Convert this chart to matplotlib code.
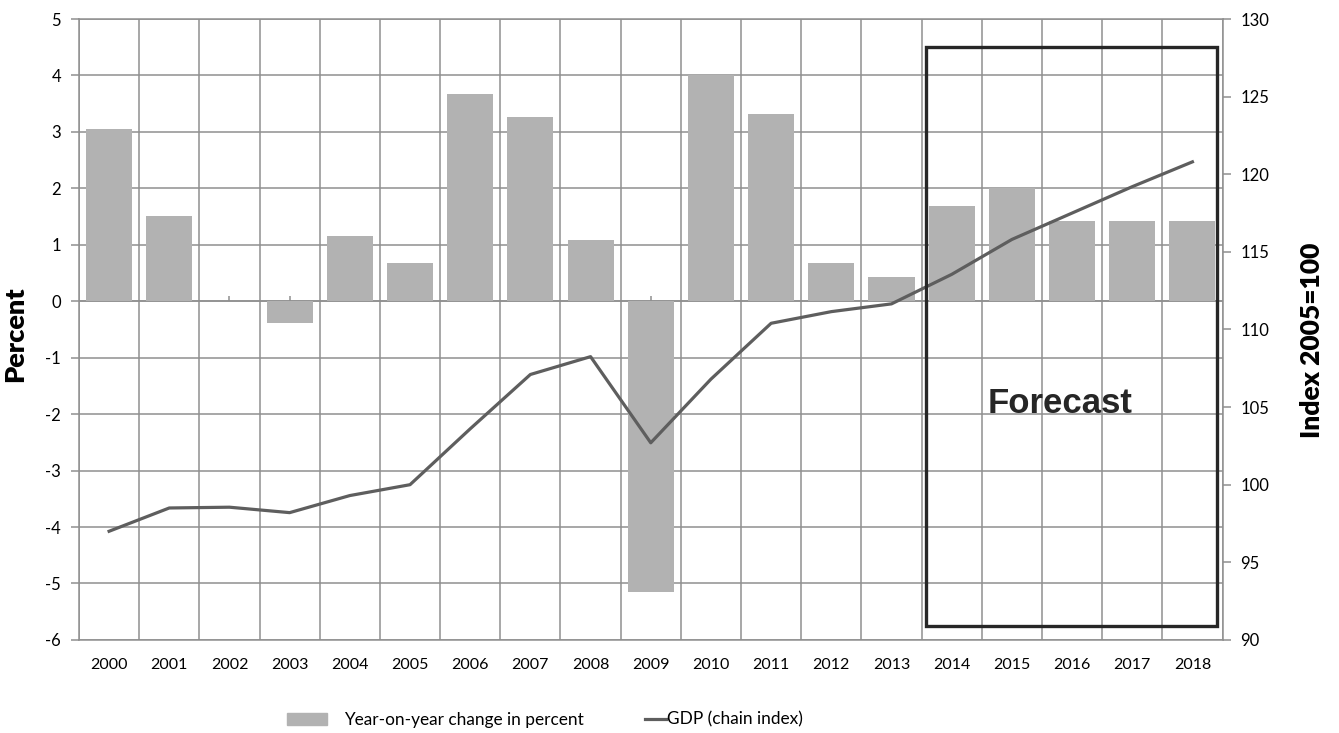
import numpy as np
import matplotlib
matplotlib.use("Agg")
import matplotlib.pyplot as plt
from matplotlib.patches import Patch, Rectangle
from matplotlib.lines import Line2D

plt.rcParams["font.family"] = ["Lato", "DejaVu Sans"]
plt.rcParams["axes.unicode_minus"] = False

years = [2000, 2001, 2002, 2003, 2004, 2005, 2006, 2007, 2008, 2009,
         2010, 2011, 2012, 2013, 2014, 2015, 2016, 2017, 2018]
yoy_change = [3.05, 1.51, 0.0, -0.38, 1.15, 0.67, 3.68, 3.26, 1.08, -5.15,
              4.0, 3.32, 0.68, 0.43, 1.69, 2.0, 1.43, 1.43, 1.43]
gdp_index = [97.0, 98.5, 98.55, 98.2, 99.3, 100.0, 103.6, 107.1, 108.25, 102.7,
             106.8, 110.4, 111.15, 111.65, 113.55, 115.8, 117.5, 119.2, 120.8]

forecast_start = 2014
forecast_label = "Forecast"

BAR_COLOR = "#b2b2b2"
LINE_COLOR = "#5e5e5e"
GRID_COLOR = "#8f8f8f"

fig = plt.figure(figsize=(13.39, 7.33), dpi=100)
ax = fig.add_axes([0.059, 0.127, 0.854, 0.847])
ax2 = ax.twinx()

x = np.arange(len(years))

# bars (percent, left axis)
ax.bar(x, yoy_change, width=0.765, color=BAR_COLOR, zorder=2)

ax.set_xlim(-0.5, len(years) - 0.5)
ax.set_ylim(-6, 5)
ax.set_yticks(range(-6, 6))
ax.set_xticks(x)
ax.set_xticklabels([str(y) for y in years], fontsize=11.5)
ax.set_xticks(np.arange(-0.5, len(years)), minor=True)

# grid: horizontal at every percent, vertical at category borders
ax.grid(axis="y", which="major", color=GRID_COLOR, linewidth=1.1, zorder=0)
ax.grid(axis="x", which="minor", color=GRID_COLOR, linewidth=1.1, zorder=0)
ax.set_axisbelow(True)
ax.tick_params(axis="x", which="both", length=0, pad=13)
ax.tick_params(axis="y", length=6, width=1.1, color=GRID_COLOR, labelsize=12, pad=7)

# zero line with small category ticks
ax.axhline(0, color=GRID_COLOR, linewidth=1.1, zorder=1)
ax.vlines(x, 0, 0.09, color=GRID_COLOR, linewidth=1.1, zorder=1)

for side in ["top", "left", "bottom"]:
    ax.spines[side].set_color(GRID_COLOR)
    ax.spines[side].set_linewidth(1.1)
ax.spines["right"].set_visible(False)

ax.set_ylabel("Percent", fontsize=19.5, fontweight="heavy")
ax.yaxis.set_label_coords(-0.0455, 0.492)

# GDP chain index (right axis)
ax2.plot(x, gdp_index, color=LINE_COLOR, linewidth=2.3, zorder=3)
ax2.set_ylim(90, 130)
ax2.set_yticks(range(90, 131, 5))
ax2.tick_params(axis="y", length=6, width=1.1, color=GRID_COLOR, labelsize=12, pad=7)
for side in ["top", "left", "bottom"]:
    ax2.spines[side].set_visible(False)
ax2.spines["right"].set_color(GRID_COLOR)
ax2.spines["right"].set_linewidth(1.1)
ax2.set_ylabel("Index 2005=100", fontsize=19, fontweight="heavy")
ax2.yaxis.set_label_coords(1.0676, 0.483)

# forecast frame
fx = years.index(forecast_start)
ax2.add_patch(Rectangle((fx - 0.43, 90.9), 4.84, 128.2 - 90.9,
                        fill=False, edgecolor="#262626", linewidth=2.4, zorder=4))
ax2.text(fx + 1.8, 105.2, forecast_label, fontsize=25, fontweight="bold",
         family=["Liberation Sans", "DejaVu Sans"], color="#262626",
         ha="center", va="center", zorder=5)

# legend below the plot
fig.legend(handles=[Patch(color=BAR_COLOR, label="Year-on-year change in percent")],
           loc="center left", bbox_to_anchor=(0.2143, 0.018), frameon=False, fontsize=12.4,
           borderpad=0, borderaxespad=0,
           handlelength=2.3, handleheight=0.7, handletextpad=1.0)
fig.legend(handles=[Line2D([], [], color=LINE_COLOR, linewidth=2.3, label="GDP (chain index)")],
           loc="center left", bbox_to_anchor=(0.4817, 0.018), frameon=False, fontsize=12.4,
           borderpad=0, borderaxespad=0,
           handlelength=1.2, handletextpad=0.05)

fig.savefig("out.png", dpi=100)
